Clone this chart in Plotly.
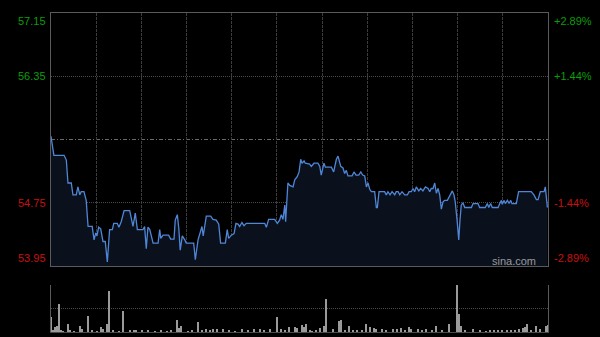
import plotly.graph_objects as go

# ---------------- data ----------------
minutes = [0, 1.4, 6.3, 7.4, 8.2, 9.8, 10.6, 12.2, 13.0, 13.9, 14.6, 15.9, 17.0, 17.9, 19.9,
           20.8, 21.6, 22.2, 23.0, 24.0, 25.1, 26.2, 27.2, 28.3, 29.6, 30.3, 32.0, 32.8, 33.9,
           35.3, 38.0, 39.6, 40.7, 41.7, 44.4, 45.2, 46.0, 46.8, 47.7, 49.3, 51.7, 52.5, 53.0,
           54.1, 56.8, 57.8, 59.4, 60.0, 61.0, 61.7, 62.4, 63.4, 64.6, 65.3, 68.9, 69.7, 71.0,
           72.3, 72.9, 73.5, 75.0, 77.1, 78.2, 79.8, 81.0, 81.9, 84.2, 85.1, 85.8, 87.1, 88.4,
           89.3, 90.3, 91.1, 92.2, 93.2, 94.3, 103.2, 104.0, 105.1, 108.0, 109.3, 110.4, 111.2,
           112.0, 112.9, 113.3, 114.4, 115.3, 116.9, 117.7, 118.9, 119.8, 120.6, 121.2, 122.2,
           122.8, 124.9, 125.7, 127.0, 128.9, 129.8, 130.5, 131.8, 132.5, 135.4, 136.5, 137.8,
           138.6, 139.9, 141.0, 141.8, 142.6, 143.4, 145.4, 146.3, 147.3, 148.6, 149.6, 150.5,
           151.5, 152.3, 153.1, 153.9, 154.7, 156.3, 157.1, 157.6, 158.4, 161.1, 161.9, 162.7,
           163.7, 164.7, 166.0, 166.7, 167.6, 168.4, 169.5, 170.8, 172.1, 172.9, 174.0, 174.8,
           175.6, 176.4, 177.6, 178.5, 179.6, 180.8, 182.1, 182.9, 183.6, 184.5, 185.3, 186.1,
           186.9, 187.7, 188.5, 189.3, 190.1, 191.4, 193.0, 193.8, 194.6, 195.2, 196.1, 196.9,
           197.5, 198.1, 198.9, 199.8, 203.0, 203.8, 206.2, 207.0, 209.7, 210.7, 211.4, 212.3,
           213.1, 215.9, 216.7, 217.5, 217.9, 218.8, 219.4, 220.4, 221.2, 222.0, 222.6, 224.7,
           225.8, 231.9, 233.2, 234.4, 235.2, 236.3, 238.1, 238.7, 239.7]
prices = [55.59, 55.35, 55.35, 55.29, 55.00, 55.00, 54.85, 54.85, 54.95, 54.85, 54.89, 54.89,
          54.78, 54.45, 54.45, 54.28, 54.37, 54.33, 54.44, 54.42, 54.26, 54.26, 54.00, 54.41,
          54.41, 54.49, 54.49, 54.44, 54.51, 54.65, 54.65, 54.45, 54.62, 54.41, 54.41, 54.45,
          54.17, 54.44, 54.41, 54.24, 54.24, 54.41, 54.30, 54.34, 54.34, 54.29, 54.29, 54.53,
          54.60, 54.43, 54.15, 54.33, 54.28, 54.24, 54.24, 54.03, 54.28, 54.41, 54.45, 54.33,
          54.58, 54.58, 54.54, 54.53, 54.48, 54.24, 54.24, 54.41, 54.30, 54.34, 54.36, 54.49,
          54.48, 54.45, 54.50, 54.46, 54.49, 54.49, 54.44, 54.54, 54.54, 54.49, 54.53, 54.60,
          54.54, 54.72, 54.51, 55.00, 54.97, 54.95, 55.04, 55.08, 55.14, 55.30, 55.25, 55.28,
          55.25, 55.24, 55.21, 55.25, 55.25, 55.21, 55.10, 55.25, 55.20, 55.20, 55.14, 55.30,
          55.34, 55.21, 55.19, 55.12, 55.16, 55.09, 55.09, 55.14, 55.10, 55.10, 55.14, 55.10,
          55.09, 54.95, 55.00, 54.92, 54.89, 54.89, 54.69, 54.69, 54.89, 54.89, 54.85, 54.89,
          54.85, 54.89, 54.85, 54.89, 54.89, 54.85, 54.89, 54.85, 54.85, 54.89, 54.89, 54.93,
          54.89, 54.95, 54.90, 54.93, 54.90, 54.95, 54.93, 54.89, 54.93, 54.93, 55.00, 54.87,
          54.93, 54.85, 54.67, 54.76, 54.78, 54.78, 54.87, 54.90, 54.85, 54.76, 54.53, 54.28,
          54.53, 54.72, 54.75, 54.69, 54.69, 54.74, 54.74, 54.69, 54.69, 54.74, 54.69, 54.74,
          54.69, 54.69, 54.74, 54.78, 54.73, 54.78, 54.74, 54.78, 54.74, 54.78, 54.74, 54.74,
          54.89, 54.89, 54.85, 54.79, 54.79, 54.89, 54.89, 54.95, 54.69]

prev_close = 55.55
price_min, price_max = 53.95, 57.15
price_ticks = [57.15, 56.35, 54.75, 53.95]
price_tick_text = ["57.15", "56.35", "54.75", "53.95"]
pct_tick_text = ["+2.89%", "+1.44%", "-1.44%", "-2.89%"]

vol_minutes = [0, 1, 2, 3, 4, 5, 6, 8, 9, 11, 14, 15, 18, 20, 22, 24, 25, 27, 28, 30, 33, 35,
               38, 40, 41, 44, 47, 50, 53, 56, 58, 61, 62, 63, 66, 68, 71, 73, 75, 77, 78, 80,
               83, 86, 89, 92, 95, 98, 101, 103, 106, 109, 111, 113, 115, 118, 119, 121, 122,
               123, 125, 126, 128, 130, 132, 133, 136, 139, 140, 142, 144, 146, 148, 150, 152,
               154, 156, 157, 160, 162, 165, 167, 169, 171, 173, 174, 177, 179, 181, 184, 186,
               189, 192, 196, 197, 198, 200, 204, 207, 210, 212, 214, 216, 218, 220, 222, 224,
               226, 228, 229, 230, 232, 234, 236, 239, 240]
vol_values = [31, 3, 11, 13, 59, 3, 2, 16, 3, 2, 13, 6, 35, 3, 2, 11, 6, 16, 87, 3, 2, 45,
              4, 4, 4, 3, 4, 2, 3, 2, 3, 26, 8, 13, 2, 3, 21, 3, 6, 5, 6, 6,
              6, 3, 2, 6, 3, 6, 6, 3, 6, 31, 6, 3, 10, 10, 8, 15, 10,
              17, 3, 2, 4, 9, 13, 70, 6, 23, 26, 3, 13, 3, 4, 3, 17,
              11, 8, 6, 6, 3, 6, 6, 8, 3, 11, 6, 6, 3, 6, 3, 13,
              3, 17, 100, 38, 13, 3, 6, 3, 2, 3, 4, 4, 4, 3, 4, 3,
              6, 8, 10, 17, 4, 13, 6, 13, 15]

# ---------------- figure ----------------
W, H = 600, 337
x0_px, x1_px = 51, 548
main_top, main_bot = 13, 266
vol_top, vol_bot = 285, 332

GREEN = "#0a9e0a"
RED = "#c81010"
GRID = "#3c3c3c"
FRAME = "#5a5a5a"
FONT = "Liberation Sans, Arial, sans-serif"

fig = go.Figure()

fig.add_trace(go.Scatter(
    x=minutes, y=prices, mode="lines",
    line=dict(color="#4f86d8", width=1.3),
    fill="tozeroy", fillcolor="#0a111c",
    xaxis="x", yaxis="y", hoverinfo="skip", showlegend=False,
))

fig.add_trace(go.Bar(
    x=vol_minutes, y=vol_values, width=0.5,
    marker=dict(color="#9a9a9a", line=dict(width=0)),
    xaxis="x2", yaxis="y2", hoverinfo="skip", showlegend=False,
))

vgrid = [240 * k / 11 for k in range(1, 11)]

fig.update_layout(
    width=W, height=H,
    margin=dict(l=0, r=0, t=0, b=0),
    paper_bgcolor="#000000", plot_bgcolor="#000000",
    bargap=0,
    xaxis=dict(
        domain=[x0_px / W, x1_px / W], range=[0, 240],
        showticklabels=False, ticks="", zeroline=False,
        tickvals=vgrid, showgrid=True, gridcolor=GRID, griddash="3px,1px", gridwidth=1,
        showline=True, linecolor=FRAME, linewidth=1, mirror=True,
    ),
    yaxis=dict(
        domain=[(H - main_bot) / H, (H - main_top) / H], range=[price_min, price_max],
        showticklabels=False, ticks="", zeroline=False,
        tickvals=[56.35, 54.75], showgrid=True, gridcolor="#4a4a4a", griddash="1px,1px",
        showline=True, linecolor=FRAME, linewidth=1, mirror=True,
    ),
    xaxis2=dict(
        domain=[x0_px / W, x1_px / W], range=[0, 240], anchor="y2",
        showticklabels=False, ticks="", zeroline=False, showgrid=False,
        showline=True, linecolor="#4a4a4a", linewidth=1,
    ),
    yaxis2=dict(
        domain=[(H - vol_bot) / H, (H - vol_top) / H], range=[0, 100], anchor="x2",
        showticklabels=False, ticks="", zeroline=False,
        tickvals=[50, 100], showgrid=True, gridcolor="#4a4a4a", griddash="1px,1px",
        showline=True, linecolor=FRAME, linewidth=1, mirror=True,
    ),
    showlegend=False,
)

# previous close reference line (dash-dot)
fig.add_shape(type="line", xref="x", yref="y", x0=0, x1=240, y0=prev_close, y1=prev_close,
              line=dict(color="#6a6a6a", width=1, dash="4px,2px,1px,2px"), layer="below")

# axis labels
anchors = ["top", "middle", "middle", "bottom"]
colors = [GREEN, GREEN, RED, RED]
for v, lt, rt, ya, c in zip(price_ticks, price_tick_text, pct_tick_text, anchors, colors):
    fig.add_annotation(xref="paper", yref="y", x=(x0_px - 3) / W, y=v, text=lt,
                       xanchor="right", yanchor=ya, showarrow=False,
                       font=dict(family=FONT, size=11, color=c))
    fig.add_annotation(xref="paper", yref="y", x=(x1_px + 4) / W, y=v, text=rt,
                       xanchor="left", yanchor=ya, showarrow=False,
                       font=dict(family=FONT, size=11, color=c))

fig.add_annotation(xref="paper", yref="y", x=(x1_px - 10) / W, y=price_min, text="sina.com",
                   xanchor="right", yanchor="bottom", yshift=-3, showarrow=False,
                   font=dict(family=FONT, size=11, color="#9a9a9a"))

fig.write_html("out.html")
